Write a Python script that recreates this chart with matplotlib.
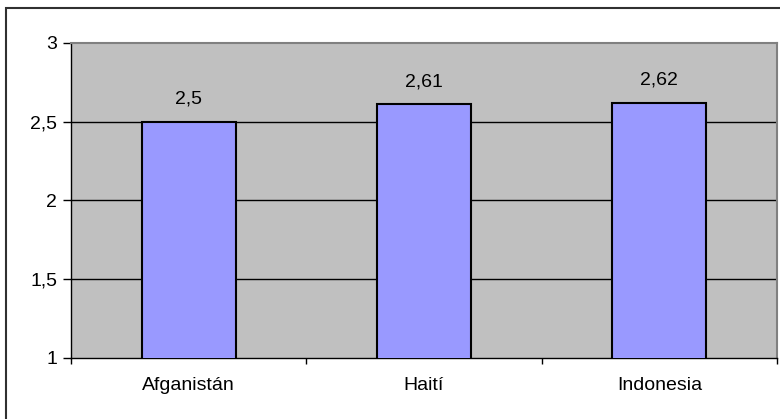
import matplotlib
matplotlib.use("Agg")
import matplotlib.pyplot as plt
from matplotlib.patches import Rectangle

categories = ["Afganistán", "Haití", "Indonesia"]
values = [2.5, 2.61, 2.62]
value_labels = ["2,5", "2,61", "2,62"]
y_ticks = [1, 1.5, 2, 2.5, 3]
y_tick_labels = ["1", "1,5", "2", "2,5", "3"]

plt.rcParams['font.family'] = ['Liberation Sans', 'DejaVu Sans']

W, H = 780, 419
fig = plt.figure(figsize=(W / 100, H / 100), dpi=100)
ax = fig.add_axes([71 / W, 1 - 358 / H, (777 - 71) / W, (358 - 43) / H])

ax.set_facecolor('#C0C0C0')
x = list(range(len(categories)))
ax.bar(x, values, width=0.4, bottom=0, color='#9999FF', edgecolor='black', linewidth=1.5, zorder=3)
ax.set_xlim(-0.5, len(categories) - 0.5)
ax.set_ylim(1, 3)

for i, (v, lab) in enumerate(zip(values, value_labels)):
    ax.annotate(lab, (i, v), xytext=(0, 10), textcoords='offset points',
                ha='center', va='bottom', fontsize=14, color='black')

ax.set_yticks(y_ticks)
ax.set_yticklabels(y_tick_labels, fontsize=14)
ax.set_xticks(x)
ax.set_xticklabels(categories, fontsize=14)
ax.set_xticks([i - 0.5 for i in range(len(categories) + 1)], minor=True)
ax.tick_params(axis='x', which='major', length=0, pad=14)
ax.tick_params(axis='x', which='minor', length=4, width=1, direction='out')
ax.tick_params(axis='y', length=6, width=1, direction='out', pad=4)

for yv in y_ticks[1:-1]:
    ax.axhline(yv, color='black', linewidth=1, zorder=1)

ax.spines['top'].set_color('#808080')
ax.spines['right'].set_color('#808080')
ax.spines['top'].set_linewidth(1.5)
ax.spines['right'].set_linewidth(1.5)
ax.spines['left'].set_color('black')
ax.spines['bottom'].set_color('black')
ax.spines['left'].set_linewidth(1)
ax.spines['bottom'].set_linewidth(1)

border = Rectangle((6 / W, -0.1), 1.2, 1 - 8 / H + 0.1, transform=fig.transFigure,
                   fill=False, edgecolor='#303030', linewidth=1.5)
fig.patches.append(border)

fig.savefig("out.png", dpi=100)
